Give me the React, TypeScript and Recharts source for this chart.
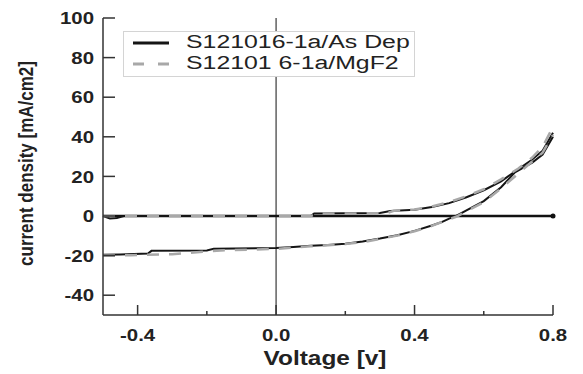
import React from 'react';
import { LineChart, Line, XAxis, YAxis, ReferenceLine, ReferenceDot, Legend } from 'recharts';

// Voltage [V] / current density [mA/cm2] readings, two samples, dark + light sweeps
const voltDark1 = [-0.5, -0.48, -0.46, -0.44, 0.1, 0.11, 0.3, 0.33, 0.4, 0.45, 0.5, 0.55, 0.6, 0.65, 0.69, 0.74, 0.77, 0.8];
const currDark1 = [0, -1.2, -1.0, 0, 0, 1.3, 1.5, 2.5, 3.2, 4.5, 6.5, 9.5, 13, 17.5, 22.5, 28.5, 33, 42];

const voltLight1 = [-0.5, -0.45, -0.37, -0.36, -0.2, -0.18, 0, 0.05, 0.1, 0.15, 0.2, 0.25, 0.3, 0.35, 0.4, 0.45, 0.48, 0.5, 0.52, 0.55, 0.6, 0.65, 0.69, 0.74, 0.77, 0.8];
const currLight1 = [-19.6, -19.4, -19, -17.6, -17.4, -16.6, -16.2, -15.6, -15, -14.6, -14, -12.9, -11.4, -9.7, -7.5, -4.8, -3, -1.3, 0, 2.8, 7.5, 14.5, 22, 27, 31, 40];

const voltDark2 = [-0.5, -0.3, 0.1, 0.12, 0.32, 0.34, 0.4, 0.45, 0.5, 0.55, 0.6, 0.65, 0.7, 0.74, 0.77, 0.8];
const currDark2 = [0, 0, 0, 1.2, 1.4, 2.6, 3.3, 4.8, 7, 10, 13.5, 18.5, 24, 29.5, 35, 45];

const voltLight2 = [-0.5, -0.42, -0.3, -0.16, 0, 0.05, 0.1, 0.15, 0.2, 0.25, 0.3, 0.35, 0.4, 0.45, 0.5, 0.52, 0.55, 0.6, 0.65, 0.7, 0.74, 0.77, 0.8];
const currLight2 = [-20, -19.8, -19.3, -17.4, -16.6, -15.9, -15.3, -14.8, -14.2, -13.2, -11.6, -9.9, -7.7, -5, -1.6, -0.4, 2.4, 7, 14, 21.5, 27.5, 32, 41];

const seriesNames = ['S121016-1a/As Dep', 'S12101 6-1a/MgF2'];

const xTicks = [-0.4, -0.2, 0, 0.2, 0.4, 0.6, 0.8];
const xMajor = [-0.4, 0, 0.4, 0.8];
const yTicks = [-40, -20, 0, 20, 40, 60, 80, 100];

const zip = (v: number[], j: number[]) => v.map((x, i) => ({ v: x, j: j[i] }));

const dark1 = zip(voltDark1, currDark1);
const light1 = zip(voltLight1, currLight1);
const dark2 = zip(voltDark2, currDark2);
const light2 = zip(voltLight2, currLight2);

const FONT = '"Liberation Sans", Arial, sans-serif';
const AXIS = '#333';

const BottomTick = (props: any) => {
    const { x, y, payload } = props;
    const major = xMajor.includes(payload.value);
    return (
        <g>
            <line x1={x} x2={x} y1={y} y2={y - (major ? 10 : 4)} stroke={AXIS} strokeWidth={1.5} />
            {major && (
                <text
                    transform={`translate(${x},${y + 25.5}) scale(1.2,1)`}
                    textAnchor="middle"
                    fontSize={17}
                    fontWeight="bold"
                    fill="#222"
                    fontFamily={FONT}
                >
                    {payload.value.toFixed(1)}
                </text>
            )}
        </g>
    );
};

const TopTick = (props: any) => {
    const { x, y, payload } = props;
    const major = xMajor.includes(payload.value);
    return <line x1={x} x2={x} y1={y} y2={y + (major ? 10 : 4)} stroke={AXIS} strokeWidth={1.5} />;
};

const LeftTick = (props: any) => {
    const { x, y, payload } = props;
    return (
        <g>
            <line x1={x} x2={x + 12} y1={y} y2={y} stroke={AXIS} strokeWidth={1.5} />
            <text
                transform={`translate(${x - 9},${y}) scale(1.2,1)`}
                textAnchor="end"
                dy="0.36em"
                fontSize={17}
                fontWeight="bold"
                fill="#222"
                fontFamily={FONT}
            >
                {payload.value}
            </text>
        </g>
    );
};

const RightTick = (props: any) => {
    const { x, y } = props;
    return <line x1={x} x2={x - 12} y1={y} y2={y} stroke={AXIS} strokeWidth={1.5} />;
};

const renderLegend = (props: any) => {
    const items = (props.payload || [])
        .filter((e: any) => seriesNames.includes(e.value))
        .sort((a: any, b: any) => seriesNames.indexOf(a.value) - seriesNames.indexOf(b.value));
    return (
        <div
            style={{
                border: '1px solid #d4d4d4',
                background: '#fff',
                paddingLeft: 9,
                width: 292,
                height: 46,
                boxSizing: 'border-box',
            }}
        >
            {items.map((entry: any) => (
                <div key={entry.value} style={{ display: 'flex', alignItems: 'center', height: 21 }}>
                    <svg width={36} height={6} style={{ display: 'block' }}>
                        <line
                            x1={0}
                            x2={36}
                            y1={3}
                            y2={3}
                            stroke={entry.color}
                            strokeWidth={3}
                            strokeDasharray={entry.payload?.strokeDasharray ? '11 14' : undefined}
                        />
                    </svg>
                    <span
                        style={{
                            marginLeft: 17,
                            fontSize: 18,
                            color: '#222',
                            display: 'inline-block',
                            transform: 'scaleX(1.38)',
                            transformOrigin: 'left center',
                            whiteSpace: 'nowrap',
                            lineHeight: '21px',
                            fontFamily: FONT,
                        }}
                    >
                        {entry.value}
                    </span>
                </div>
            ))}
        </div>
    );
};

export default function App() {
    return (
        <div style={{ position: 'absolute', left: 0, top: 0, background: '#fff' }}>
            <LineChart
                width={583}
                height={374}
                margin={{ top: 18, right: 30, bottom: 0, left: 0 }}
                style={{ fontFamily: FONT }}
            >
                <XAxis
                    dataKey="v"
                    type="number"
                    domain={[-0.5, 0.8]}
                    ticks={xTicks}
                    height={59}
                    tickSize={0}
                    tickMargin={0}
                    tickLine={false}
                    tick={BottomTick}
                    axisLine={{ stroke: AXIS, strokeWidth: 1.5 }}
                    label={({ viewBox }: any) => (
                        <text
                            transform={`translate(${viewBox.x + viewBox.width / 2 - 3},${viewBox.y + 50}) scale(1.22,1)`}
                            textAnchor="middle"
                            fontSize={20}
                            fontWeight="bold"
                            fill="#222"
                            fontFamily={FONT}
                        >
                            Voltage [v]
                        </text>
                    )}
                />
                <XAxis
                    xAxisId="top"
                    orientation="top"
                    dataKey="v"
                    type="number"
                    domain={[-0.5, 0.8]}
                    ticks={xTicks}
                    height={0}
                    tickSize={0}
                    tickMargin={0}
                    tickLine={false}
                    tick={TopTick}
                    axisLine={{ stroke: AXIS, strokeWidth: 1.5 }}
                />
                <YAxis
                    type="number"
                    domain={[-50, 100]}
                    ticks={yTicks}
                    width={103}
                    tickSize={0}
                    tickMargin={0}
                    tickLine={false}
                    tick={LeftTick}
                    axisLine={{ stroke: AXIS, strokeWidth: 1.5 }}
                    label={({ viewBox }: any) => (
                        <text
                            transform={`translate(${viewBox.x + 33},${viewBox.y + viewBox.height / 2 - 3}) rotate(-90) scale(1,1.2)`}
                            textAnchor="middle"
                            fontSize={17}
                            fontWeight="bold"
                            fill="#222"
                            fontFamily={FONT}
                        >
                            current density [mA/cm2]
                        </text>
                    )}
                />
                <YAxis
                    yAxisId="right"
                    orientation="right"
                    type="number"
                    domain={[-50, 100]}
                    ticks={yTicks}
                    width={0}
                    tickSize={0}
                    tickMargin={0}
                    tickLine={false}
                    tick={RightTick}
                    axisLine={{ stroke: AXIS, strokeWidth: 1.5 }}
                />
                <ReferenceLine x={0} stroke="#111" strokeWidth={1} />
                <ReferenceLine y={0} stroke="#111" strokeWidth={2.5} />
                <ReferenceDot x={0.8} y={0} r={2.5} fill="#111" stroke="none" />
                <Legend
                    layout="vertical"
                    align="center"
                    verticalAlign="middle"
                    wrapperStyle={{ left: 123, top: 31, width: 292 }}
                    content={renderLegend}
                />
                <Line data={dark1} dataKey="j" name="dark1" legendType="none" stroke="#151515" strokeWidth={2} dot={false} type="linear" isAnimationActive={false} />
                <Line data={light1} dataKey="j" name={seriesNames[0]} stroke="#151515" strokeWidth={2} dot={false} type="linear" isAnimationActive={false} />
                <Line data={dark2} dataKey="j" name="dark2" legendType="none" stroke="#a8a8a8" strokeWidth={2.5} strokeDasharray="12 10" dot={false} type="linear" isAnimationActive={false} />
                <Line data={light2} dataKey="j" name={seriesNames[1]} stroke="#a8a8a8" strokeWidth={2.5} strokeDasharray="12 10" dot={false} type="linear" isAnimationActive={false} />
            </LineChart>
        </div>
    );
}
